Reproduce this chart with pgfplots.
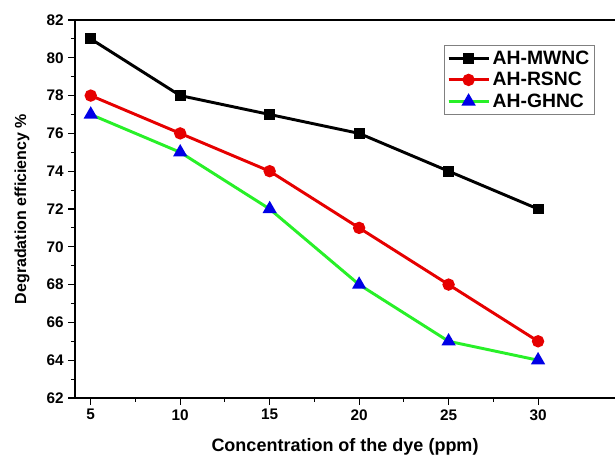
\documentclass[border=0pt]{standalone}
\usepackage{pgfplots}
\pgfplotsset{compat=1.18}
\usepackage{fontspec}
\setmainfont{Liberation Sans}
\definecolor{myred}{RGB}{230,0,0}
\definecolor{mygreen}{RGB}{40,240,40}
\definecolor{myblue}{RGB}{0,0,230}
\begin{document}
\begin{tikzpicture}
\useasboundingbox (-56.25pt,-45.75pt) rectangle (405pt,298.5pt);
\begin{axis}[
  at={(0,0)}, anchor=south west,
  width=405pt, height=283.5pt, scale only axis,
  xmin=4.12, xmax=34.3, ymin=62, ymax=82,
  axis x line=box, axis y line=left,
  axis line style={line width=0.9pt, -},
  xtick={5,10,15,20,25,30}, ytick={62,64,...,82},
  minor xtick={7.5,12.5,17.5,22.5,27.5},
  minor ytick={63,65,...,81},
  xtick pos=bottom, ytick pos=left,
  tick align=outside,
  major tick length=5pt, minor tick length=3pt,
  tick style={line width=0.8pt, black},
  /pgf/number format/assume math mode=true,
  tick label style={font=\fontsize{11.5}{13}\selectfont\bfseries},
  xlabel={Concentration of the dye (ppm)},
  ylabel={Degradation efficiency \%},
  xlabel style={font=\fontsize{13.5}{15}\selectfont\bfseries, at={(axis description cs:0.5,0)}, anchor=center, yshift=-36.75pt},
  ylabel style={font=\fontsize{12}{14}\selectfont\bfseries, at={(axis description cs:0,0.5)}, anchor=center, rotate=0, yshift=39.75pt},
  legend style={at={(0.963,0.934)}, anchor=north east, draw=gray, line width=0.6pt,
    font=\fontsize{14.5}{16}\selectfont\bfseries, row sep=0.5pt, inner sep=2pt},
  legend cell align=left,
  legend image code/.code={\draw[#1, line width=2.2pt] (0cm,0cm) -- (1.05cm,0cm); \draw[#1, mark repeat=2, mark phase=2] plot coordinates {(0cm,0cm) (0.525cm,0cm) (1.05cm,0cm)};},
]
\addplot[black, line width=2.2pt, mark=square*, mark size=3pt, mark options={solid, fill=black}]
  coordinates {(5,81) (10,78) (15,77) (20,76) (25,74) (30,72)};
\addlegendentry{AH-MWNC}
\addplot[myred, line width=2.2pt, mark=*, mark size=3.5pt, mark options={fill=myred}]
  coordinates {(5,78) (10,76) (15,74) (20,71) (25,68) (30,65)};
\addlegendentry{AH-RSNC}
\addplot[mygreen, line width=2.2pt, mark=triangle*, mark size=4pt, mark options={draw=myblue, fill=myblue}]
  coordinates {(5,77) (10,75) (15,72) (20,68) (25,65) (30,64)};
\addlegendentry{AH-GHNC}
\end{axis}
\end{tikzpicture}
\end{document}
